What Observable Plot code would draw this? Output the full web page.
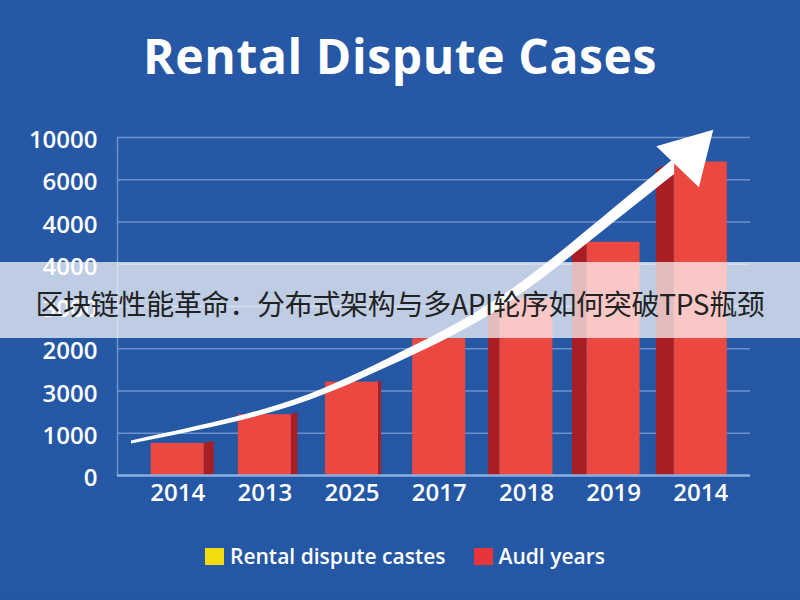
<!DOCTYPE html>
<html>
<head>
<meta charset="utf-8">
<script src="https://cdn.jsdelivr.net/npm/d3@7"></script>
<script src="https://cdn.jsdelivr.net/npm/@observablehq/plot@0.6"></script>
<style>
  html, body { margin: 0; padding: 0; }
  body { width: 800px; height: 600px; overflow: hidden; background: #2558a5; font-family: "Open Sans", "Noto Sans", sans-serif; }
  #wrap { position: relative; width: 800px; height: 600px; background: linear-gradient(#2658a5, #2457a4); }
  #title { position: absolute; left: 0; top: 25px; width: 800px; text-align: center; color: #fff; font-weight: 700; font-size: 48px; line-height: 62px; letter-spacing: 0.6px; }
  #chart { position: absolute; left: 0; top: 0; }
  #legend { position: absolute; left: 0; top: 542px; width: 810px; display: flex; justify-content: center; align-items: center; color: #fff; font-size: 21px; font-weight: 600; }
  #legend .item { display: flex; align-items: center; margin: 0 14px; }
  #legend .sw { width: 19px; height: 17px; margin-right: 6px; }
  #banner { position: absolute; left: 0; top: 262px; width: 800px; height: 76px; background: rgba(255,255,255,0.7); display: flex; align-items: center; justify-content: center; }
  #banner span { font-family: "Noto Sans CJK SC", sans-serif; font-size: 28px; color: #222; letter-spacing: -0.3px; position: relative; top: 3px; }
</style>
</head>
<body>
<div id="wrap">
  <div id="title">Rental Dispute Cases</div>
  <div id="chart"></div>
  <div id="legend">
    <div class="item"><div class="sw" style="background:#f3dc10"></div><span>Rental dispute castes</span></div>
    <div class="item"><div class="sw" style="background:#e8353a"></div><span>Audl years</span></div>
  </div>
  <div id="banner"><span>区块链性能革命：分布式架构与多API轮序如何突破TPS瓶颈</span></div>
</div>
<script>
// ---- data ----
const years = ["2014", "2013", "2025", "2017", "2018", "2019", "2014"];
const cases = [760, 1440, 2210, 3240, 4190, 5520, 7420];
const yTickValues = [0, 1000, 2000, 3000, 4000, 5000, 6000, 7000, 8000];
const yTickLabels = ["0", "1000", "3000", "2000", "3000", "4000", "4000", "6000", "10000"];
// trend arrow path (x in category index units, y in value units)
const arrowX = [-0.53, 1.17, 2.40, 3.62, 4.75, 5.70];
const arrowY = [781, 1609, 2651, 3976, 5728, 7314];
const arrowHeadX = [5.87];
const arrowHeadY = [7598];

// ---- derived tables ----
const bars = years.map((y, i) => ({i, year: y, value: cases[i]}));
const half = 0.304;
const pxPerUnitX = 87.2, pxPerUnitY = 1000 / 42.25;
function sideDepthPx(i) { return i < 3 ? 10 - 3.5 * i : i === 3 ? 0 : -(8 + 3.3 * (i - 3)); }
function sideRisePx(i) { return i < 3 ? 2 : -8; }
const sides = bars.flatMap(b => {
  const d = sideDepthPx(b.i);
  if (d === 0) return [];
  const edge = d > 0 ? b.i + half : b.i - half;
  return [
    {bar: b.i, x: edge, y: b.value},
    {bar: b.i, x: edge + d / pxPerUnitX, y: b.value + sideRisePx(b.i) * pxPerUnitY}
  ];
});
const n = arrowX.length;
const arrow = arrowX.map((x, k) => {
  const w = (3 + 13 * k / (n - 1)) * pxPerUnitY;
  return {x, y1: arrowY[k] - w / 2, y2: arrowY[k] + w / 2};
});
const head = arrowHeadX.map((x, k) => ({x, y: arrowHeadY[k]}));

const xMin = -0.69, xMax = 6.57;
const grid = "#6f92cc";

const plot = Plot.plot({
  width: 800,
  height: 600,
  marginTop: 137,
  marginBottom: 125,
  marginLeft: 117,
  marginRight: 50,
  style: {background: "transparent", color: "#fff", fontFamily: "'Open Sans', sans-serif"},
  x: {type: "linear", domain: [xMin, xMax], axis: null},
  y: {domain: [0, 8000], axis: null},
  marks: [
    Plot.ruleY(yTickValues.filter(v => v > 0), {stroke: grid, strokeWidth: 1.5}),
    Plot.ruleX([xMin], {y1: 0, y2: 8000, stroke: grid, strokeWidth: 1.5}),
    Plot.areaY(sides, {x: "x", y1: 0, y2: "y", z: "bar", fill: "#a81e22"}),
    Plot.rectY(bars, {x1: d => d.i - half, x2: d => d.i + half, y1: 0, y2: "value", fill: "#ea4840"}),
    Plot.ruleY([0], {stroke: "#8db0e2", strokeWidth: 2.5}),
    Plot.areaY(arrow, {x: "x", y1: "y1", y2: "y2", fill: "#fff", curve: "natural"}),
    Plot.dot(head, {x: "x", y: "y", symbol: "triangle", r: 22, rotate: 44, fill: "#fff", stroke: null}),
    Plot.axisY({ticks: yTickValues, tickFormat: v => yTickLabels[yTickValues.indexOf(v)], tickSize: 0, tickPadding: 20, fontSize: 24, fontWeight: 600, fill: "#fff", dy: 3, anchor: "left", label: null}),
    Plot.axisX({ticks: d3.range(years.length), tickFormat: i => years[i], tickSize: 0, tickPadding: 8, fontSize: 24, fontWeight: 600, fill: "#fff", anchor: "bottom", label: null})
  ]
});
document.getElementById("chart").appendChild(plot);
</script>
</body>
</html>
